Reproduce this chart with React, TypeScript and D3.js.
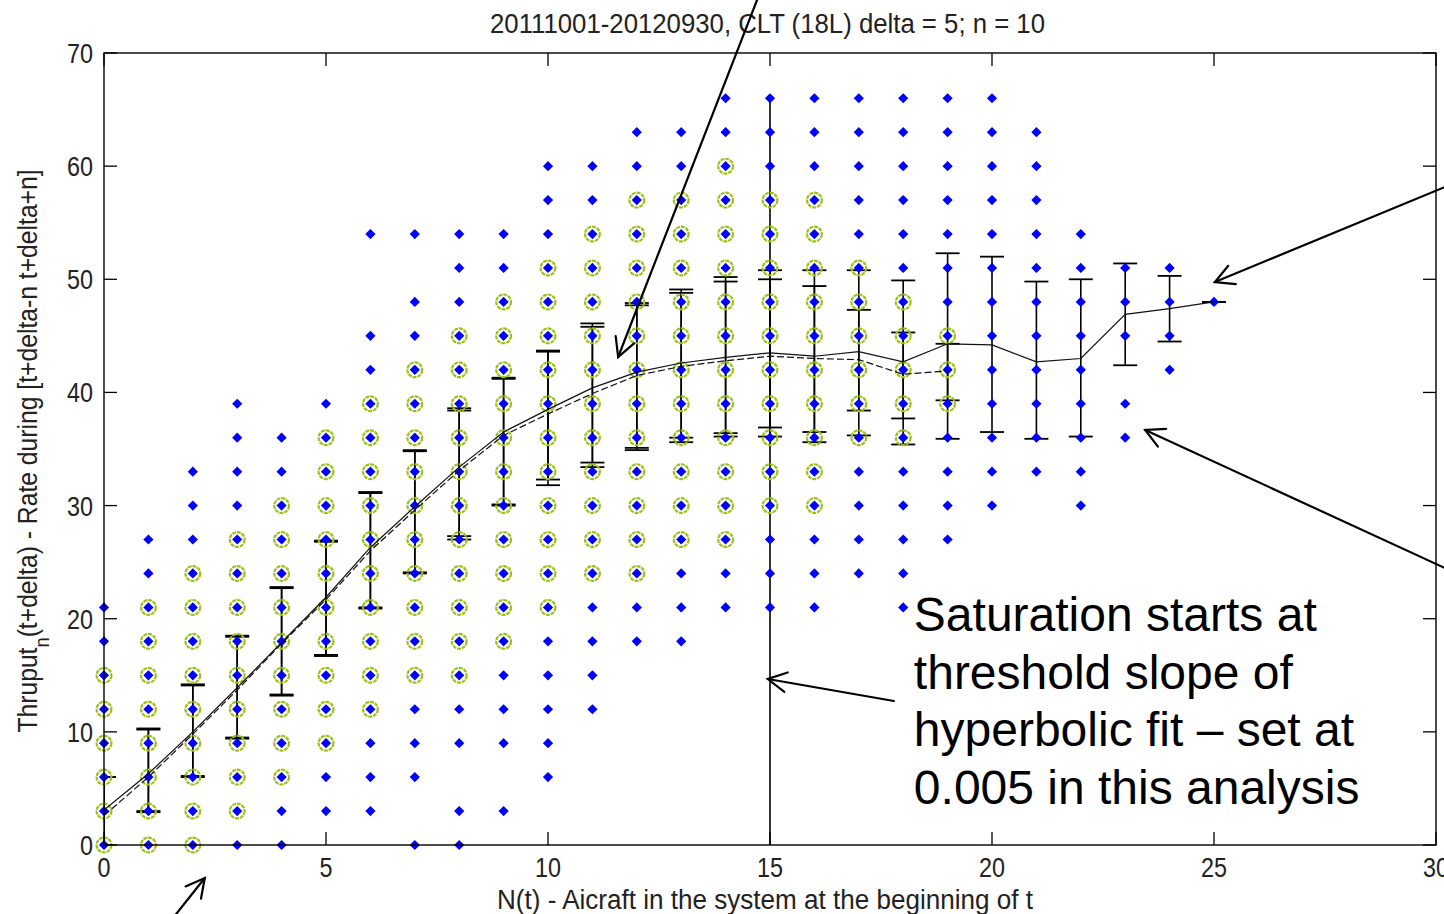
import React from 'react';
import * as d3 from 'd3';

const TITLE = '20111001-20120930, CLT (18L) delta = 5; n = 10';
const X_LABEL = 'N(t) - Aicraft in the system at the beginning of t';
const Y_LABEL_MAIN = 'Thruput';
const Y_LABEL_SUB = 'n';
const Y_LABEL_REST = '(t+delta) - Rate during [t+delta-n t+delta+n]';

const xTicks = [0, 5, 10, 15, 20, 25, 30];
const yTicks = [0, 10, 20, 30, 40, 50, 60, 70];

const nValues = [0, 1, 2, 3, 4, 5, 6, 7, 8, 9, 10, 11, 12, 13, 14, 15, 16, 17, 18, 19, 20, 21, 22, 23, 24, 25];

// every observed (N, rate) cell — blue dots
const observedRates: number[][] = [
  [0, 3, 6, 9, 12, 15, 18, 21],
  [0, 3, 6, 9, 12, 15, 18, 21, 24, 27],
  [0, 3, 6, 9, 12, 15, 18, 21, 24, 27, 30, 33],
  [0, 3, 6, 9, 12, 15, 18, 21, 24, 27, 30, 33, 36, 39],
  [0, 3, 6, 9, 12, 15, 18, 21, 24, 27, 30, 33, 36],
  [3, 6, 9, 12, 15, 18, 21, 24, 27, 30, 33, 36, 39],
  [3, 6, 9, 12, 15, 18, 21, 24, 27, 30, 33, 36, 39, 42, 45, 54],
  [0, 6, 9, 12, 15, 18, 21, 24, 27, 30, 33, 36, 39, 42, 45, 48, 54],
  [0, 3, 9, 12, 15, 18, 21, 24, 27, 30, 33, 36, 39, 42, 45, 48, 51, 54],
  [3, 9, 12, 15, 18, 21, 24, 27, 30, 33, 36, 39, 42, 45, 48, 51, 54],
  [6, 9, 12, 15, 18, 21, 24, 27, 30, 33, 36, 39, 42, 45, 48, 51, 54, 57, 60],
  [12, 15, 18, 21, 24, 27, 30, 33, 36, 39, 42, 45, 48, 51, 54, 57, 60],
  [18, 21, 24, 27, 30, 33, 36, 39, 42, 45, 48, 51, 54, 57, 60, 63],
  [18, 21, 24, 27, 30, 33, 36, 39, 42, 45, 48, 51, 54, 57, 60, 63],
  [21, 24, 27, 30, 33, 36, 39, 42, 45, 48, 51, 54, 57, 60, 63, 66],
  [21, 24, 27, 30, 33, 36, 39, 42, 45, 48, 51, 54, 57, 60, 63, 66],
  [21, 24, 27, 30, 33, 36, 39, 42, 45, 48, 51, 54, 57, 60, 63, 66],
  [24, 27, 30, 33, 36, 39, 42, 45, 48, 51, 54, 57, 60, 63, 66],
  [21, 24, 27, 30, 33, 36, 39, 42, 45, 48, 51, 54, 57, 60, 63, 66],
  [27, 30, 33, 36, 39, 42, 45, 48, 51, 54, 57, 60, 63, 66],
  [30, 33, 36, 39, 42, 45, 48, 51, 54, 57, 60, 63, 66],
  [33, 36, 39, 42, 45, 48, 51, 54, 57, 60, 63],
  [30, 33, 36, 39, 42, 45, 48, 51, 54],
  [36, 39, 45, 48, 51],
  [42, 45, 48, 51],
  [48],
];

// retained core cells — green rings
const coreRates: number[][] = [
  [0, 3, 6, 9, 12, 15],
  [0, 3, 6, 9, 12, 15, 18, 21],
  [0, 3, 6, 9, 12, 15, 18, 21, 24],
  [3, 6, 9, 12, 15, 18, 21, 24, 27],
  [6, 9, 12, 15, 18, 21, 24, 27, 30],
  [9, 12, 15, 18, 21, 24, 27, 30, 33, 36],
  [12, 15, 18, 21, 24, 27, 30, 33, 36, 39],
  [15, 18, 21, 24, 27, 30, 33, 36, 39, 42],
  [15, 18, 21, 24, 27, 30, 33, 36, 39, 42, 45],
  [18, 21, 24, 27, 30, 33, 36, 39, 42, 45, 48],
  [21, 24, 27, 30, 33, 36, 39, 42, 45, 48, 51],
  [24, 27, 30, 33, 36, 39, 42, 45, 48, 51, 54],
  [24, 27, 30, 33, 36, 39, 42, 45, 48, 51, 54, 57],
  [27, 30, 33, 36, 39, 42, 45, 48, 51, 54, 57],
  [27, 30, 33, 36, 39, 42, 45, 48, 51, 54, 57, 60],
  [30, 33, 36, 39, 42, 45, 48, 51, 54, 57],
  [30, 33, 36, 39, 42, 45, 48, 51, 54, 57],
  [36, 39, 42, 45, 48, 51],
  [36, 39, 42, 45, 48],
  [39, 42, 45],
];

// mean line + error bar of all observations (solid)
const meanAll = [3.1, 6.3, 10.0, 13.9, 17.9, 21.9, 26.3, 29.9, 33.4, 36.5, 38.5, 40.4, 41.8, 42.6, 43.1, 43.5, 43.2, 43.6, 42.7, 44.3, 44.2, 42.7, 43.0, 46.9, 47.4, 48.0];
const lowAll = [-0.5, 2.9, 6.0, 9.4, 13.2, 16.7, 20.9, 24.0, 27.0, 30.0, 31.8, 33.4, 34.9, 35.6, 36.1, 36.1, 35.6, 36.2, 35.4, 35.9, 36.5, 35.9, 36.1, 42.4, 44.5, 48.0];
const highAll = [6.0, 10.3, 14.2, 18.5, 22.8, 26.9, 31.2, 34.9, 38.6, 41.3, 43.7, 46.1, 47.9, 49.1, 50.2, 50.8, 50.8, 50.8, 49.9, 52.3, 52.0, 49.8, 50.0, 51.4, 50.3, 48.0];

// mean line + error bar of the core observations (dashed)
const meanCore = [2.6, 6.0, 9.8, 13.7, 17.8, 21.7, 26.0, 29.6, 33.1, 36.2, 38.1, 39.9, 41.5, 42.3, 42.8, 43.2, 43.0, 42.9, 41.6, 41.9];
const lowCore = [-0.2, 3.0, 6.1, 9.5, 13.3, 16.8, 21.0, 24.1, 27.3, 30.1, 32.3, 33.8, 35.1, 36.0, 36.4, 36.9, 36.5, 38.4, 37.7, 39.3];
const highCore = [6.0, 10.2, 14.1, 18.4, 22.7, 26.8, 31.1, 34.8, 38.4, 41.2, 43.6, 45.8, 47.7, 48.8, 49.8, 50.0, 49.4, 47.3, 45.3, 44.3];

const saturationN = 15;
const saturationTop = 66;

const noteLines = ['Saturation starts at', 'threshold slope of', 'hyperbolic fit \u2013 set at', '0.005 in this analysis'];
const noteAnchor = { n: 18.24, rate: 18.9 };

// annotation arrows in data coordinates: tail -> tip
const arrows = [
  { from: [14.71, 74.7], to: [11.58, 43.13] },
  { from: [30.2, 58.16], to: [25.02, 49.76] },
  { from: [30.2, 24.48], to: [23.45, 36.68] },
  { from: [17.79, 12.73], to: [14.95, 14.67] },
  { from: [1.2, -8.2], to: [2.27, -2.92] },
];

const FONT = "'Liberation Sans', Arial, Helvetica, sans-serif";

function diamond(cx: number, cy: number, r: number) {
  return `M${cx},${cy - r}L${cx + r},${cy}L${cx},${cy + r}L${cx - r},${cy}Z`;
}

export default function App() {
  const W = 1444, H = 914;
  const x = d3.scaleLinear().domain([0, 30]).range([104, 1436]);
  const y = d3.scaleLinear().domain([0, 70]).range([845, 53]);
  const [xl, xr] = x.range();
  const [yb, yt] = y.range();
  const tickLen = 13;
  const capHalf = 12;

  const lineAll = d3.line<number>().x((_, i) => x(nValues[i])).y((d) => y(d));
  const lineCore = d3.line<number>().x((_, i) => x(nValues[i])).y((d) => y(d));

  const arrowHead = (tip: number[], tail: number[]) => {
    const tx = x(tip[0]), ty = y(tip[1]);
    const sx = x(tail[0]), sy = y(tail[1]);
    const len = Math.hypot(sx - tx, sy - ty);
    const ux = (sx - tx) / len, uy = (sy - ty) / len;
    const L = 21, th = (28 * Math.PI) / 180;
    const w1 = [tx + L * (ux * Math.cos(th) - uy * Math.sin(th)), ty + L * (ux * Math.sin(th) + uy * Math.cos(th))];
    const w2 = [tx + L * (ux * Math.cos(-th) - uy * Math.sin(-th)), ty + L * (ux * Math.sin(-th) + uy * Math.cos(-th))];
    return `M${w1[0]},${w1[1]}L${tx},${ty}L${w2[0]},${w2[1]}`;
  };

  const errorBars = (lo: number[], hi: number[], key: string) =>
    lo.map((l, i) => {
      const cx = x(nValues[i]);
      return (
        <g key={key + i}>
          <line x1={cx} x2={cx} y1={y(l)} y2={y(hi[i])} stroke="#000" strokeWidth={1.6} />
          <line x1={cx - capHalf} x2={cx + capHalf} y1={y(l)} y2={y(l)} stroke="#000" strokeWidth={1.8} />
          <line x1={cx - capHalf} x2={cx + capHalf} y1={y(hi[i])} y2={y(hi[i])} stroke="#000" strokeWidth={1.8} />
        </g>
      );
    });

  const tickTextLen = (s: string) => s.length * 13;

  return (
    <svg width={W} height={H} style={{ position: 'absolute', left: 0, top: 0, background: '#fff' }} xmlns="http://www.w3.org/2000/svg">
      <defs>
        <clipPath id="plotClip">
          <rect x={xl} y={yt} width={xr - xl} height={yb - yt} />
        </clipPath>
      </defs>
      <rect x={0} y={0} width={W} height={H} fill="#fff" />

      {/* title */}
      <text x={767.5} y={33} fontFamily={FONT} fontSize={27} fill="#222" textAnchor="middle" textLength={555} lengthAdjust="spacingAndGlyphs">
        {TITLE}
      </text>

      {/* error bars (drawn under markers) */}
      <g clipPath="url(#plotClip)">
        {errorBars(lowAll, highAll, 'a')}
        {errorBars(lowCore, highCore, 'c')}
      </g>

      {/* saturation line */}
      <line x1={x(saturationN)} x2={x(saturationN)} y1={y(0)} y2={y(saturationTop)} stroke="#000" strokeWidth={1.6} />

      {/* observed dots */}
      <g fill="#0000ff">
        {observedRates.map((col, i) =>
          col.map((v) => <path key={`d${i}-${v}`} d={diamond(x(nValues[i]), y(v), 5.1)} />)
        )}
      </g>

      {/* core rings */}
      <g fill="none" stroke="#9cc217" strokeWidth={2.2} strokeDasharray="4 0.9">
        {coreRates.map((col, i) =>
          col.map((v) => <circle key={`c${i}-${v}`} cx={x(nValues[i])} cy={y(v)} r={7.4} />)
        )}
      </g>

      {/* mean lines */}
      <g clipPath="url(#plotClip)" fill="none">
        <path d={lineAll(meanAll) || ''} stroke="#111" strokeWidth={1.2} />
        <path d={lineCore(meanCore) || ''} stroke="#111" strokeWidth={1.2} strokeDasharray="7 3" />
      </g>

      {/* axes box */}
      <rect x={xl} y={yt} width={xr - xl} height={yb - yt} fill="none" stroke="#000" strokeWidth={1.4} />
      {xTicks.map((t) => (
        <g key={`xt${t}`}>
          <line x1={x(t)} x2={x(t)} y1={yb} y2={yb - tickLen} stroke="#000" strokeWidth={1.3} />
          <line x1={x(t)} x2={x(t)} y1={yt} y2={yt + tickLen} stroke="#000" strokeWidth={1.3} />
          <text x={x(t)} y={yb + 32} fontFamily={FONT} fontSize={27} fill="#222" textAnchor="middle" textLength={tickTextLen(String(t))} lengthAdjust="spacingAndGlyphs">
            {t}
          </text>
        </g>
      ))}
      {yTicks.map((t) => (
        <g key={`yt${t}`}>
          <line x1={xl} x2={xl + tickLen} y1={y(t)} y2={y(t)} stroke="#000" strokeWidth={1.3} />
          <line x1={xr} x2={xr - tickLen} y1={y(t)} y2={y(t)} stroke="#000" strokeWidth={1.3} />
          <text x={93} y={y(t) + 10} fontFamily={FONT} fontSize={27} fill="#222" textAnchor="end" textLength={tickTextLen(String(t))} lengthAdjust="spacingAndGlyphs">
            {t}
          </text>
        </g>
      ))}

      {/* axis labels */}
      <text x={765} y={909} fontFamily={FONT} fontSize={27} fill="#222" textAnchor="middle" textLength={536} lengthAdjust="spacingAndGlyphs">
        {X_LABEL}
      </text>
      <g transform="translate(37,451) rotate(-90) scale(0.915,1)">
        <text x={0} y={0} fontFamily={FONT} fontSize={27} fill="#222" textAnchor="middle">
          {Y_LABEL_MAIN}
          <tspan fontSize={20} dy={12}>{Y_LABEL_SUB}</tspan>
          <tspan dy={-12}>{Y_LABEL_REST}</tspan>
        </text>
      </g>

      {/* annotation arrows */}
      <g stroke="#000" strokeWidth={2.2} fill="none" strokeLinecap="round">
        {arrows.map((a, i) => (
          <g key={`ar${i}`}>
            <line x1={x(a.from[0])} y1={y(a.from[1])} x2={x(a.to[0])} y2={y(a.to[1])} />
            <path d={arrowHead(a.to, a.from)} />
          </g>
        ))}
      </g>

      {/* annotation text */}
      <text fontFamily={FONT} fontSize={48} fill="#000">
        {noteLines.map((l, i) => (
          <tspan key={`nl${i}`} x={x(noteAnchor.n)} y={y(noteAnchor.rate) + i * 57.5}>
            {l}
          </tspan>
        ))}
      </text>
    </svg>
  );
}
